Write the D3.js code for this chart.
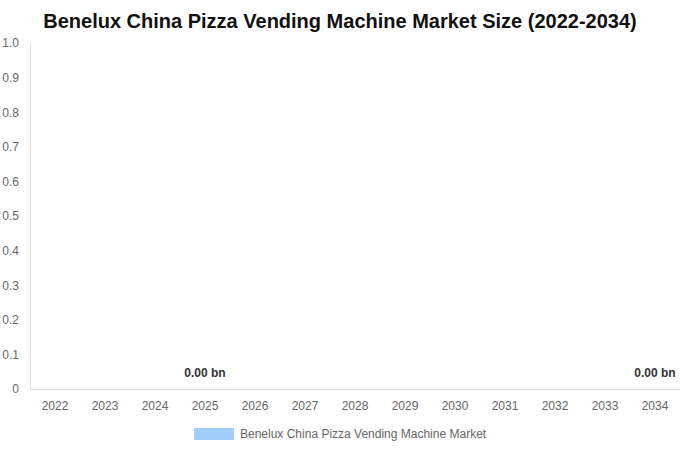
<!DOCTYPE html>
<html>
<head>
<meta charset="utf-8">
<script src="https://cdn.jsdelivr.net/npm/d3@7"></script>
<style>
  body { margin: 0; background: #fff; }
  svg { display: block; font-family: "Liberation Sans", Arial, sans-serif; }
</style>
</head>
<body>
<script>
const years = ["2022", "2023", "2024", "2025", "2026", "2027", "2028", "2029", "2030", "2031", "2032", "2033", "2034"];
const marketSize = [0, 0, 0, 0, 0, 0, 0, 0, 0, 0, 0, 0, 0];
const labelledYears = ["2025", "2034"];
const yTicks = [0, 0.1, 0.2, 0.3, 0.4, 0.5, 0.6, 0.7, 0.8, 0.9, 1.0];
const seriesName = "Benelux China Pizza Vending Machine Market";
const chartTitle = "Benelux China Pizza Vending Machine Market Size (2022-2034)";

const width = 680;
const height = 450;
const margin = { top: 43, right: 0, bottom: 61, left: 30 };

const svg = d3
  .select("body")
  .append("svg")
  .attr("width", width)
  .attr("height", height);

const x = d3
  .scaleBand()
  .domain(years)
  .range([margin.left, width - margin.right])
  .padding(0);

const y = d3
  .scaleLinear()
  .domain([0, 1])
  .range([height - margin.bottom, margin.top]);

// Title ///////////////////////////////////////////////////////////////////

svg
  .append("text")
  .text(chartTitle)
  .attr("x", width / 2)
  .attr("y", 28)
  .attr("text-anchor", "middle")
  .attr("font-size", 20)
  .attr("font-weight", "bold")
  .attr("fill", "#111");

// Axes ////////////////////////////////////////////////////////////////////

const yAxis = svg
  .append("g")
  .attr("transform", `translate(${margin.left}, 0)`)
  .call(
    d3
      .axisLeft(y)
      .tickValues(yTicks)
      .tickSize(0)
      .tickPadding(11)
      .tickFormat((d) => (d === 0 ? "0" : d3.format(".1f")(d)))
  );
yAxis.select(".domain").attr("stroke", "#e0e0e0");
yAxis.selectAll("text").attr("fill", "#666").attr("font-size", 12);

const xAxis = svg
  .append("g")
  .attr("transform", `translate(0, ${y(0)})`)
  .call(d3.axisBottom(x).tickSize(0).tickPadding(12));
xAxis.select(".domain").attr("stroke", "#e0e0e0");
xAxis.selectAll("text").attr("fill", "#666").attr("font-size", 12);

// Bars ////////////////////////////////////////////////////////////////////

svg
  .append("g")
  .selectAll("rect")
  .data(years)
  .join("rect")
  .attr("x", (d) => x(d) + x.bandwidth() * 0.2)
  .attr("width", x.bandwidth() * 0.6)
  .attr("y", (d, i) => y(marketSize[i]))
  .attr("height", (d, i) => y(0) - y(marketSize[i]))
  .attr("fill", "#a0cdfa");

svg
  .append("g")
  .selectAll("text")
  .data(years.filter((d) => labelledYears.includes(d)))
  .join("text")
  .text((d) => `${marketSize[years.indexOf(d)].toFixed(2)} bn`)
  .attr("x", (d) => x(d) + x.bandwidth() / 2)
  .attr("y", (d) => y(marketSize[years.indexOf(d)]) - 12)
  .attr("text-anchor", "middle")
  .attr("font-size", 12)
  .attr("font-weight", "bold")
  .attr("fill", "#333");

// Legend //////////////////////////////////////////////////////////////////

const legend = svg.append("g").attr("transform", "translate(194, 428)");
legend
  .append("rect")
  .attr("width", 40)
  .attr("height", 12)
  .attr("fill", "#a0cdfa");
legend
  .append("text")
  .text(seriesName)
  .attr("x", 46)
  .attr("y", 10)
  .attr("font-size", 12)
  .attr("fill", "#666");
</script>
</body>
</html>
